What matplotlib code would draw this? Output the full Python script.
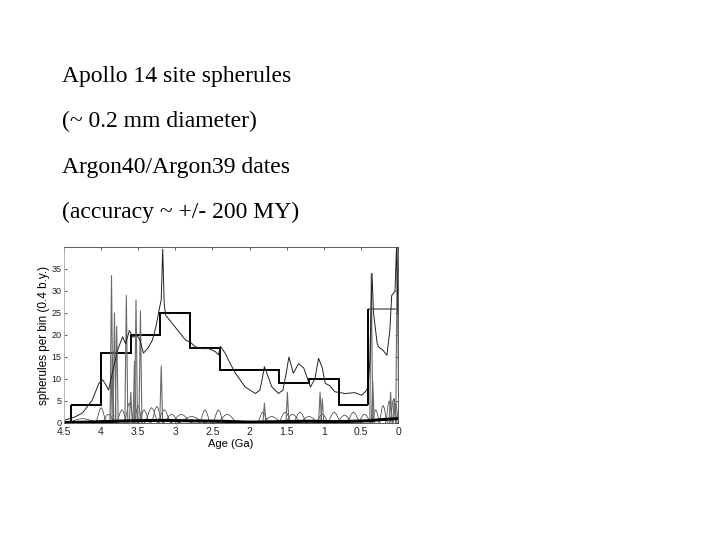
import matplotlib
matplotlib.use("Agg")
import matplotlib.pyplot as plt
import numpy as np

# slide text
title_lines = ["Apollo 14 site spherules",
               "(~ 0.2 mm diameter)",
               "Argon40/Argon39 dates",
               "(accuracy ~ +/- 200 MY)"]

# histogram, 0.4 b.y. bins (age in Ga)
bin_edges = [4.4, 4.0, 3.6, 3.2, 2.8, 2.4, 2.0, 1.6, 1.2, 0.8, 0.4, 0.0]
bin_counts = [4, 16, 20, 25, 17, 12, 12, 9, 10, 4, 26]

# summed probability curve
sum_age = [4.48, 4.35, 4.25, 4.12, 4.03, 3.98, 3.94, 3.90, 3.84, 3.78, 3.71, 3.67,
           3.62, 3.57, 3.52, 3.48, 3.43, 3.37, 3.31, 3.26, 3.22, 3.19, 3.17, 3.15,
           3.13, 3.06, 2.95, 2.86, 2.80, 2.73, 2.64, 2.55, 2.46, 2.42, 2.39, 2.33,
           2.26, 2.19, 2.06, 1.92, 1.86, 1.83, 1.80, 1.76, 1.70, 1.61, 1.55, 1.51,
           1.47, 1.41, 1.34, 1.27, 1.18, 1.12, 1.07, 1.02, 0.98, 0.92, 0.85, 0.71,
           0.58, 0.49, 0.42, 0.40, 0.38, 0.35, 0.33, 0.31, 0.28, 0.26, 0.20, 0.15,
           0.11, 0.085, 0.06, 0.04, 0.02, 0.0]
sum_val = [0.7, 1.4, 2.3, 5.2, 9.0, 9.8, 8.8, 7.5, 12.0, 16.5, 19.6, 18.0,
           21.0, 19.5, 20.0, 19.0, 15.9, 17.0, 18.8, 22.0, 25.6, 28.0, 39.5, 27.0,
           24.5, 23.0, 20.7, 18.8, 18.4, 17.3, 16.9, 16.9, 16.2, 15.5, 17.4, 15.9,
           13.5, 11.3, 8.2, 6.7, 7.5, 10.0, 12.8, 11.0, 8.2, 6.7, 7.5, 11.0,
           15.0, 11.3, 13.5, 12.5, 8.2, 10.0, 14.7, 12.5, 9.0, 8.5, 7.1, 6.7,
           6.9, 6.3, 7.5, 9.0, 14.0, 34.0, 25.0, 22.2, 18.0, 17.3, 16.5, 15.4,
           21.0, 29.0, 29.5, 30.0, 40.0, 25.0]

# narrow gray spikes (single dates with small errors)
spike_age = [3.86, 3.82, 3.79, 3.66, 3.53, 3.47, 3.85, 3.60, 3.55, 3.19,
             1.80, 1.49, 1.05, 1.02, 0.36, 0.34, 0.10, 0.05, 0.01]
spike_h = [33.5, 25.0, 22.0, 29.0, 28.0, 25.5, 15.0, 7.0, 14.0, 13.0,
           4.5, 7.0, 7.0, 5.5, 34.0, 9.5, 7.0, 5.5, 40.0]

# small individual humps along the bottom
hump_age = [4.25, 4.0, 3.9, 3.72, 3.62, 3.5, 3.42, 3.32, 3.25, 3.15, 3.05, 2.92,
            2.78, 2.6, 2.42, 2.3, 1.82, 1.7, 1.52, 1.42, 1.32, 1.2, 1.02, 0.86,
            0.72, 0.6, 0.45, 0.3, 0.2, 0.12, 0.06, 0.03]
hump_h = [1.0, 3.5, 2.0, 3.0, 4.5, 4.0, 3.0, 3.5, 3.8, 3.0, 2.0, 2.0,
          1.5, 3.0, 3.0, 2.0, 2.5, 1.5, 2.5, 2.0, 2.5, 1.5, 2.0, 2.5,
          1.8, 2.5, 2.0, 3.0, 4.0, 5.0, 5.5, 4.5]
hump_w = [0.25, 0.08, 0.1, 0.08, 0.07, 0.06, 0.08, 0.1, 0.08, 0.1, 0.12, 0.15,
          0.2, 0.08, 0.08, 0.15, 0.08, 0.15, 0.1, 0.12, 0.1, 0.15, 0.1, 0.1,
          0.12, 0.1, 0.1, 0.06, 0.06, 0.05, 0.05, 0.04]

# dense overlap of many curves near zero
base_age = [4.5, 4.2, 4.0, 3.6, 3.2, 2.8, 2.4, 2.0, 1.6, 1.2, 0.8, 0.4, 0.2, 0.0]
base_val = [0.1, 0.2, 0.3, 0.5, 0.6, 0.5, 0.4, 0.2, 0.3, 0.4, 0.3, 0.5, 0.8, 1.0]

hump_profile = np.array([0.0, 0.15, 0.5, 0.85, 1.0, 0.85, 0.5, 0.15, 0.0])
hump_steps = np.linspace(-1, 1, len(hump_profile))

plt.rcParams['font.family'] = ['Liberation Sans', 'DejaVu Sans']
fig = plt.figure(figsize=(7.2, 5.4), dpi=100)

ys = [82, 127, 173, 218]
for line, y in zip(title_lines, ys):
    fig.text(62 / 720, 1 - y / 540, line, family='Liberation Serif',
             fontsize=17, va='baseline', ha='left', color='black')

ax = fig.add_axes([64 / 720, 1 - 423 / 540, 334 / 720, 176 / 540])

for a, h, w in zip(hump_age, hump_h, hump_w):
    ax.plot(a + hump_steps * w, hump_profile * h, color='#333333', lw=0.5)

for a, h in zip(spike_age, spike_h):
    ax.plot([a + 0.02, a, a - 0.02], [0, h, 0], color='#6a6a6a', lw=0.8)

ax.plot(base_age, base_val, color='black', lw=2.2)
ax.plot(sum_age, sum_val, color='#222222', lw=0.7)

# histogram steps; the youngest bin top is lighter in the scan
edges_up = bin_edges[::-1]      # 0.0 ... 4.4
counts_up = bin_counts[::-1]    # youngest first
ax.stairs(counts_up[1:], edges_up[1:], baseline=None, color='black', lw=1.4)
ax.stairs(counts_up[:1], edges_up[:2], baseline=None, color='#777777', lw=1.2)
ax.vlines(bin_edges[0], 0, bin_counts[0], color='black', lw=1.4)
ax.vlines(bin_edges[-2], bin_counts[-2], bin_counts[-1], color='black', lw=1.4)

ax.set_xlim(4.5, 0)
ax.set_ylim(0, 40)
ax.set_xticks([4.5, 4, 3.5, 3, 2.5, 2, 1.5, 1, 0.5, 0])
ax.set_xticklabels(['4.5', '4', '3.5', '3', '2.5', '2', '1.5', '1', '0.5', '0'])
ax.set_yticks(range(0, 40, 5))
ax.tick_params(direction='in', top=True, right=True, length=2.5, width=0.5,
               colors='#222222')
ax.tick_params(axis='x', labelsize=7.5, pad=3)
ax.tick_params(axis='y', labelsize=6.5, pad=2)
for s in ax.spines.values():
    s.set_linewidth(0.6)
    s.set_color('#444444')
ax.spines['left'].set_color('#aaaaaa')
ax.set_xlabel('Age (Ga)', fontsize=8, labelpad=1.5)
ax.set_ylabel('spherules per bin (0.4 b.y.)', fontsize=8.5, labelpad=1)

fig.savefig('out.png', dpi=100)
